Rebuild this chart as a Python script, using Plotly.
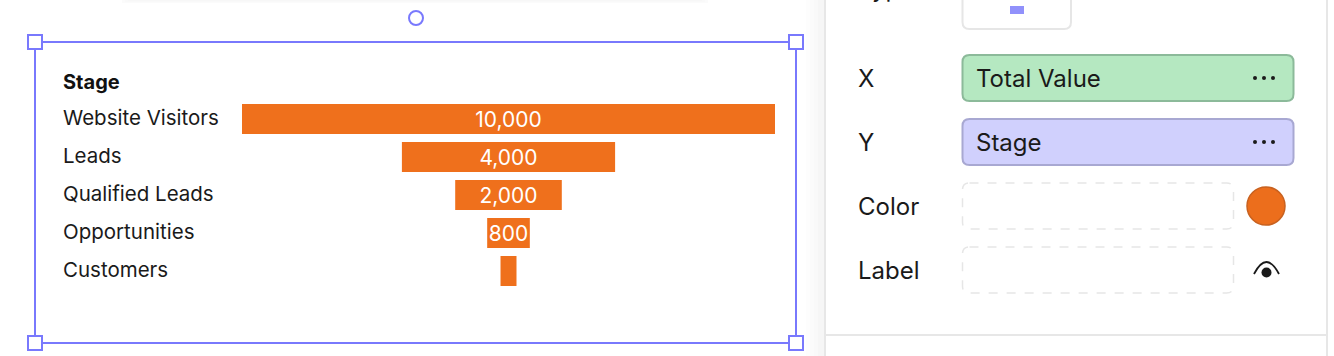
import plotly.graph_objects as go

stages = ["Website Visitors", "Leads", "Qualified Leads", "Opportunities", "Customers"]
values = [10000, 4000, 2000, 800, 300]
value_labels = ["10,000", "4,000", "2,000", "800", ""]
y_title = "Stage"
panel_labels = ["X", "Y", "Color", "Label"]
chip_x = "Total Value"
chip_y = "Stage"

W, H = 1334, 356
FONT = "Inter"
ORANGE = "#ef701c"
SEL = "#7979fd"
INK = "#1a1a1a"


def px(v):
    return v / W


def py(v):
    return 1 - v / H


shapes = []


def rect(x0, y0, x1, y1, fill="rgba(0,0,0,0)", line=None, width=0, dash="solid", layer="below", opacity=1):
    shapes.append(dict(type="rect", xref="paper", yref="paper", x0=px(x0), x1=px(x1), y0=py(y0), y1=py(y1),
                       fillcolor=fill, line=dict(color=line or "rgba(0,0,0,0)", width=width, dash=dash),
                       layer=layer, opacity=opacity))


def rrect(x0, y0, x1, y1, r, fill="rgba(0,0,0,0)", line=None, width=0, dash="solid"):
    p = [f"M {px(x0 + r)} {py(y0)}", f"L {px(x1 - r)} {py(y0)}", f"Q {px(x1)} {py(y0)} {px(x1)} {py(y0 + r)}",
         f"L {px(x1)} {py(y1 - r)}", f"Q {px(x1)} {py(y1)} {px(x1 - r)} {py(y1)}", f"L {px(x0 + r)} {py(y1)}",
         f"Q {px(x0)} {py(y1)} {px(x0)} {py(y1 - r)}", f"L {px(x0)} {py(y0 + r)}",
         f"Q {px(x0)} {py(y0)} {px(x0 + r)} {py(y0)}", "Z"]
    shapes.append(dict(type="path", xref="paper", yref="paper", path=" ".join(p), fillcolor=fill,
                       line=dict(color=line or "rgba(0,0,0,0)", width=width, dash=dash), layer="below"))


def circle(cx, cy, r, fill="rgba(0,0,0,0)", line=None, width=0, layer="above"):
    shapes.append(dict(type="circle", xref="paper", yref="paper", x0=px(cx - r), x1=px(cx + r),
                       y0=py(cy - r), y1=py(cy + r), fillcolor=fill,
                       line=dict(color=line or "rgba(0,0,0,0)", width=width), layer=layer))


# soft shadow above the canvas card and beside the panel
for i, c in enumerate(["#fbfbfb", "#f9f9f9", "#f7f7f7"]):
    rect(122 + 3 * i, 0, 708 - 3 * i, 3 - i, fill=c)
for i, c in enumerate(["#fdfdfd", "#fbfbfb", "#f9f9f9", "#f6f6f6"]):
    rect(806 + 4 * i, 0, 825, H, fill=c)

# side panel
rect(825, -4, 1327, H + 4, fill="#ffffff", line="#e7e7e7", width=2)
rect(826, 335, 1326, 335, line="#e7e7e7", width=2)
rrect(962.5, -12, 1071, 29, 7, fill="#ffffff", line="#e6e6e6", width=2)
rect(1010, 6, 1024, 14, fill="#9191fb")
rrect(962.5, 55, 1293.5, 101, 7, fill="#b5e8c1", line="#8cba9a", width=2)
rrect(962.5, 119, 1293.5, 165, 7, fill="#d0d0fd", line="#a8a8d2", width=2)
rrect(962.5, 183, 1233.5, 229, 7, fill="#ffffff", line="#e6e6e6", width=1.5, dash="dash")
rrect(962.5, 247, 1233.5, 293, 7, fill="#ffffff", line="#e6e6e6", width=1.5, dash="dash")
circle(1266, 206, 19, fill="#ec6e1c", line="#c8611f", width=1.5)
for cy in (78, 142):
    for cx in (1255, 1264, 1273):
        circle(cx, cy, 2, fill=INK)
circle(1266.5, 272.5, 5, fill=INK)
shapes.append(dict(type="path", xref="paper", yref="paper", layer="above",
                   path=f"M {px(1254)} {py(274)} Q {px(1266.5)} {py(250)} {px(1279)} {py(274)}",
                   line=dict(color=INK, width=1.8)))

# selection frame
rect(35, 42, 796, 343, line=SEL, width=2, layer="above")
for hx, hy in ((35, 42), (796, 42), (35, 343), (796, 343)):
    rect(hx - 7, hy - 7, hx + 7, hy + 7, fill="#ffffff", line=SEL, width=2, layer="above")
circle(416, 18, 7, fill="#ffffff", line=SEL, width=2)

annotations = []


def label(text, x, y, size=20, weight=400, color=INK, yref="paper", yshift=0):
    annotations.append(dict(text=text, x=px(x), xref="paper", y=y if yref != "paper" else py(y), yref=yref,
                            xanchor="left", yanchor="middle", showarrow=False, yshift=yshift,
                            font=dict(family=FONT, size=size, weight=weight, color=color)))


label(y_title, 60.8, 82, weight=700, color="#111111")
for stage in stages:
    label(stage, 60.8, stage, size=20.5, yref="y", yshift=1.7)
label("Type", 856, -11, size=24)
for text, cy in zip(panel_labels, (78.5, 142.5, 206.5, 270.5)):
    label(text, 856, cy, size=24)
label(chip_x, 973.5, 78.5, size=24)
label(chip_y, 973.5, 142.5, size=24)

fig = go.Figure(go.Funnel(
    y=stages, x=values, text=value_labels, textinfo="text", textposition="inside",
    insidetextanchor="middle", constraintext="none", orientation="h",
    textfont=dict(family=FONT, size=21, color="#ffffff"),
    marker=dict(color=ORANGE, line=dict(width=0)),
    connector=dict(visible=False), cliponaxis=False, hoverinfo="skip",
))
fig.update_layout(
    width=W, height=H, margin=dict(l=0, r=0, t=0, b=0), showlegend=False,
    paper_bgcolor="#ffffff", plot_bgcolor="rgba(0,0,0,0)", funnelgap=8 / 38,
    font=dict(family=FONT), shapes=shapes, annotations=annotations,
    xaxis=dict(domain=[px(242), px(775)], range=[-5000, 5000], visible=False, fixedrange=True),
    yaxis=dict(domain=[py(290), py(100)], range=[4.5, -0.5], type="category", categoryorder="array",
               categoryarray=stages, visible=False, fixedrange=True),
)
fig.write_html("out.html", config=dict(displayModeBar=False),
               post_script="document.body.style.margin='0';document.body.style.overflow='hidden';")
